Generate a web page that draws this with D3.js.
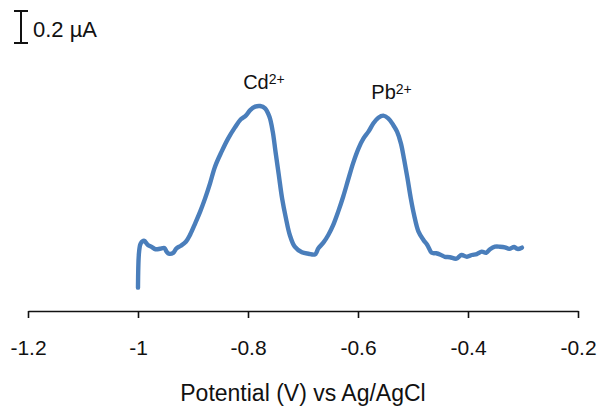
<!DOCTYPE html>
<html>
<head>
<meta charset="utf-8">
<script src="https://cdn.jsdelivr.net/npm/d3@7"></script>
<style>
  html, body { margin: 0; padding: 0; background: #fff; }
  svg { display: block; font-family: "Liberation Sans", Arial, sans-serif; }
</style>
</head>
<body>
<svg id="chart" width="598" height="409"></svg>
<script>
// Square-wave stripping voltammogram: potential (V vs Ag/AgCl) and current (µA)
const potential = [
  -1.000, -0.998, -0.995, -0.989, -0.982, -0.975, -0.968, -0.960, -0.952, -0.948,
  -0.944, -0.936, -0.930, -0.922, -0.913, -0.905, -0.896, -0.887, -0.878, -0.869,
  -0.860, -0.848, -0.836, -0.824, -0.813, -0.804, -0.796, -0.787, -0.778, -0.769,
  -0.761, -0.755, -0.750, -0.744, -0.738, -0.731, -0.724, -0.715, -0.702, -0.690,
  -0.678, -0.672, -0.663, -0.654, -0.645, -0.636, -0.627, -0.618, -0.609, -0.599,
  -0.590, -0.581, -0.572, -0.563, -0.554, -0.545, -0.536, -0.529, -0.522, -0.516,
  -0.510, -0.504, -0.498, -0.490, -0.481, -0.474, -0.466, -0.458, -0.450, -0.442,
  -0.433, -0.421, -0.412, -0.402, -0.393, -0.384, -0.375, -0.367, -0.360, -0.351,
  -0.342, -0.333, -0.325, -0.316, -0.310, -0.302
];
const current = [
  0.146, 0.371, 0.423, 0.439, 0.413, 0.400, 0.386, 0.389, 0.394, 0.371,
  0.358, 0.363, 0.392, 0.408, 0.433, 0.479, 0.548, 0.621, 0.704, 0.798,
  0.902, 0.996, 1.079, 1.146, 1.198, 1.221, 1.256, 1.277, 1.281, 1.267,
  1.214, 1.121, 0.996, 0.850, 0.704, 0.579, 0.475, 0.402, 0.367, 0.358,
  0.354, 0.392, 0.427, 0.475, 0.538, 0.621, 0.714, 0.819, 0.923, 1.017,
  1.079, 1.121, 1.173, 1.208, 1.221, 1.204, 1.163, 1.121, 1.048, 0.944,
  0.829, 0.704, 0.600, 0.496, 0.444, 0.413, 0.364, 0.361, 0.352, 0.339,
  0.336, 0.327, 0.350, 0.339, 0.350, 0.356, 0.371, 0.364, 0.386, 0.402,
  0.402, 0.398, 0.388, 0.400, 0.388, 0.396
];

const xTicks = [-1.2, -1.0, -0.8, -0.6, -0.4, -0.2];
const xTickLabels = ["-1.2", "-1", "-0.8", "-0.6", "-0.4", "-0.2"];
const peakNames = ["Cd", "Pb"];
const peakCharges = ["2+", "2+"];
const peakPotentials = [-0.771, -0.539];
const peakLabelCurrents = [1.388, 1.325];
const scaleBarRange = [1.675, 1.875];   // 0.2 µA
const scaleBarLabel = "0.2 µA";
const xTitle = "Potential (V) vs Ag/AgCl";

const svg = d3.select("#chart");

const x = d3.scaleLinear().domain([-1.2, -0.2]).range([28, 578]);
const y = d3.scaleLinear().domain([0, 1.9]).range([311, 7]);

// x axis
const xAxis = d3.axisBottom(x)
  .tickValues(xTicks)
  .tickFormat((d, i) => xTickLabels[i])
  .tickSize(7)
  .tickSizeOuter(0);

const gx = svg.append("g")
  .attr("transform", `translate(0,${y(0)})`)
  .call(xAxis);
gx.select(".domain").attr("stroke", "#111").attr("stroke-width", 1.6);
gx.selectAll(".tick line").attr("stroke", "#111").attr("stroke-width", 1.6);
gx.selectAll(".tick text")
  .attr("fill", "#111")
  .attr("font-size", 21)
  .attr("font-family", "Liberation Sans, Arial, sans-serif")
  .attr("dy", null)
  .attr("y", 44);

svg.append("text")
  .attr("x", (x.range()[0] + x.range()[1]) / 2)
  .attr("y", 401)
  .attr("text-anchor", "middle")
  .attr("font-size", 23)
  .attr("fill", "#111")
  .text(xTitle);

// voltammogram trace
const data = potential.map((v, i) => ({ v, c: current[i] }));
const line = d3.line()
  .x(d => x(d.v))
  .y(d => y(d.c))
  .curve(d3.curveCatmullRom.alpha(0.5));

svg.append("path")
  .datum(data)
  .attr("fill", "none")
  .attr("stroke", "#4a7ebb")
  .attr("stroke-width", 4.4)
  .attr("stroke-linejoin", "round")
  .attr("stroke-linecap", "round")
  .attr("d", line);

// peak labels
peakNames.forEach((name, i) => {
  const t = svg.append("text")
    .attr("x", x(peakPotentials[i]))
    .attr("y", y(peakLabelCurrents[i]))
    .attr("text-anchor", "middle")
    .attr("font-size", 20)
    .attr("fill", "#111");
  t.append("tspan").text(name);
  t.append("tspan")
    .attr("font-size", 14)
    .attr("dy", -5)
    .text(peakCharges[i]);
});

// current scale bar
const barX = 21;
const sb = svg.append("g").attr("stroke", "#111").attr("stroke-width", 2);
sb.append("line")
  .attr("x1", barX).attr("x2", barX)
  .attr("y1", y(scaleBarRange[0])).attr("y2", y(scaleBarRange[1]));
[0, 1].forEach(k => {
  sb.append("line")
    .attr("x1", barX - 7).attr("x2", barX + 7)
    .attr("y1", y(scaleBarRange[k])).attr("y2", y(scaleBarRange[k]));
});
svg.append("text")
  .attr("x", 33)
  .attr("y", 37)
  .attr("font-size", 22)
  .attr("fill", "#111")
  .text(scaleBarLabel);
</script>
</body>
</html>
